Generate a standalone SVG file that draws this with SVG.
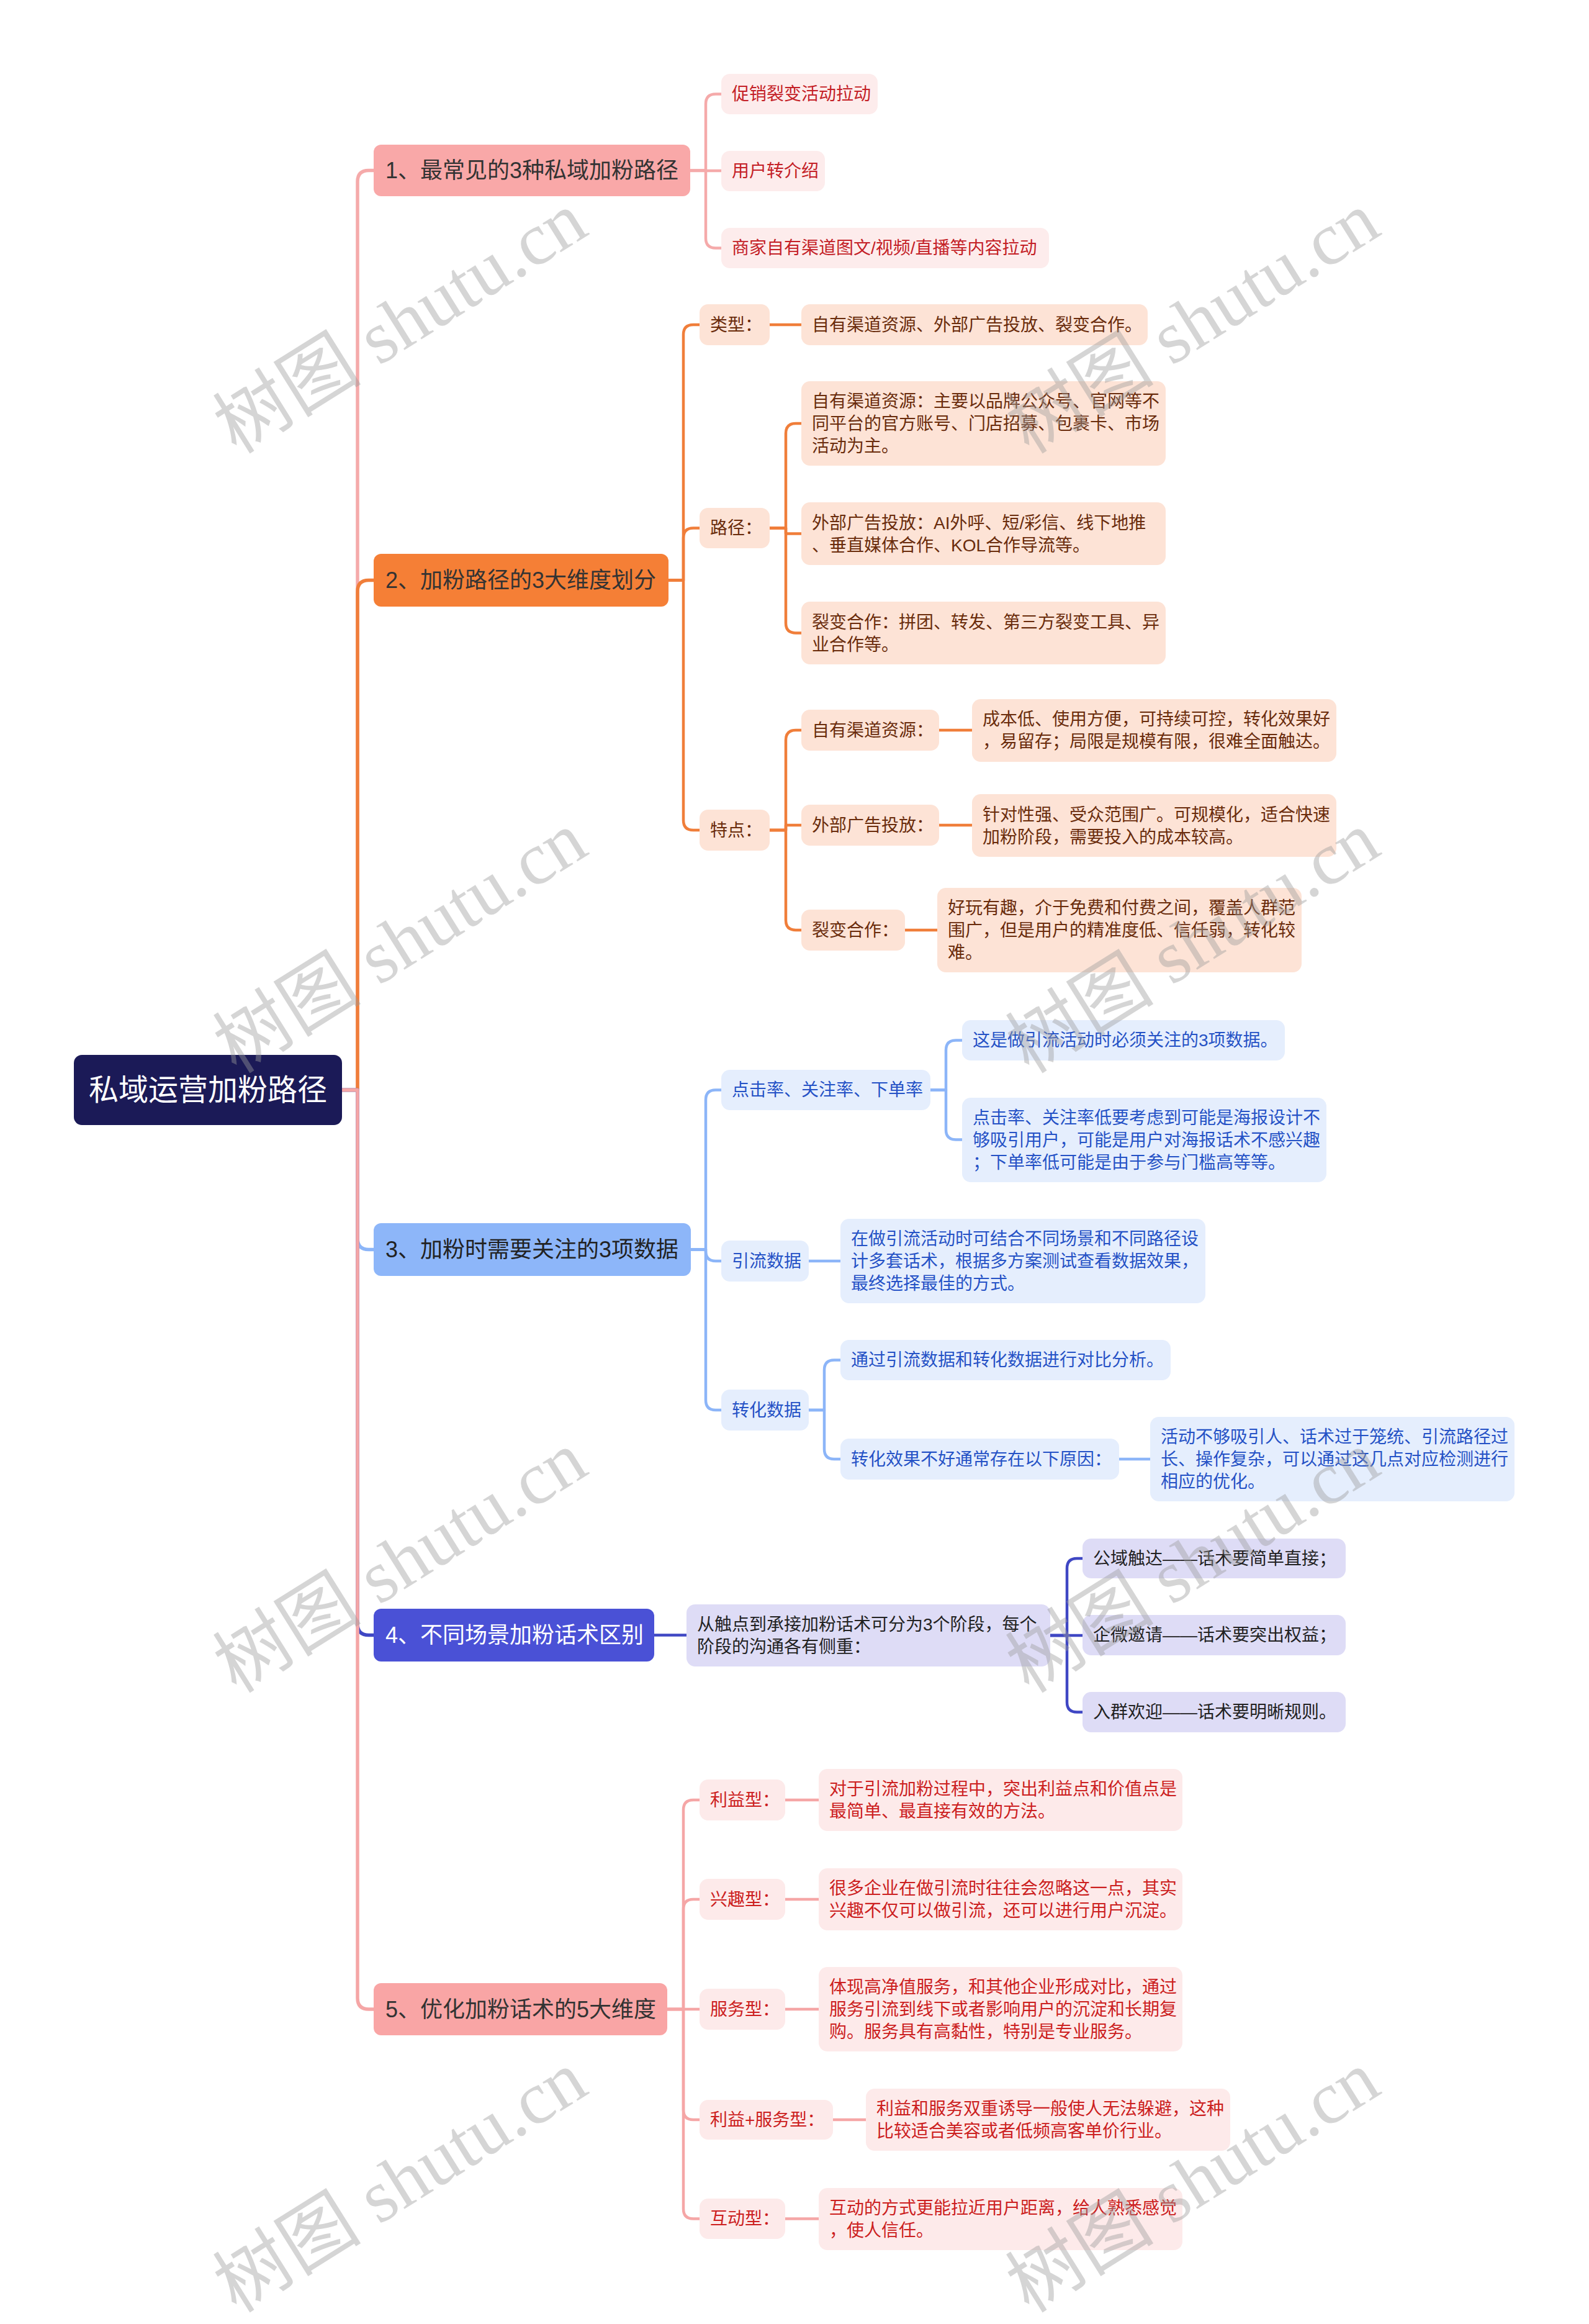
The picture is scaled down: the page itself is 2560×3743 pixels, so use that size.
<svg xmlns="http://www.w3.org/2000/svg" width="2560" height="3743" viewBox="0 0 2560 3743">
<style>
text { font-family: "Liberation Sans", "Noto Sans CJK SC", sans-serif; dominant-baseline: central; }
.root-t { font-size: 48px; fill: #ffffff; }
.l2 { font-size: 36px; }
.s { font-size: 28px; }
.c { fill: none; stroke-linecap: round; stroke-linejoin: round; }
.k1 { stroke: #f5aaaa; }
.k2 { stroke: #f07e3a; }
.k3 { stroke: #8cb5f8; }
.k4 { stroke: #3f47c4; }
.k5 { stroke: #f5a6a6; }
.w1 { stroke-width: 5.5; }
.w2 { stroke-width: 4.5; }
.b1 { fill: #fdecec; } .t1 { fill: #c42026; }
.b2 { fill: #fde3d6; } .t2 { fill: #6a2c0c; }
.b3 { fill: #e5eefd; } .t3 { fill: #2552c6; }
.b4 { fill: #dedcf6; } .t4 { fill: #222222; }
.b5 { fill: #fdeaea; } .t5 { fill: #cc2020; }
.wm { font-family: "Liberation Serif", "Noto Sans CJK SC", serif; font-size: 120px; fill: #9a9a9a; fill-opacity: 0.42; text-anchor: middle; }
</style>
<rect x="0" y="0" width="2560" height="3743" fill="#ffffff"/>

<g id="connectors">
  <path class="c k1 w1" d="M551,1755.5 H576 V292.5 Q576,274.5 594,274.5 H602"/>
  <path class="c k2 w1" d="M551,1755.5 H576 V952.5 Q576,934.5 594,934.5 H602"/>
  <path class="c k3 w1" d="M551,1755.5 H576 V1994.5 Q576,2012.5 594,2012.5 H602"/>
  <path class="c k4 w1" d="M551,1755.5 H576 V2615.5 Q576,2633.5 594,2633.5 H602"/>
  <path class="c k5 w1" d="M551,1755.5 H576 V3218 Q576,3236 594,3236 H602"/>

  <path class="c k1 w2" d="M1112,274.5 H1137 V167.5 Q1137,151.5 1153,151.5 H1162"/>
  <path class="c k1 w2" d="M1112,275 H1162"/>
  <path class="c k1 w2" d="M1112,274.5 H1137 V383.5 Q1137,399.5 1153,399.5 H1162"/>

  <path class="c k2 w2" d="M1077,934.5 H1101 V539 Q1101,523 1117,523 H1127"/>
  <path class="c k2 w2" d="M1077,934.5 H1101 V866.5 Q1101,850.5 1117,850.5 H1127"/>
  <path class="c k2 w2" d="M1077,934.5 H1101 V1321 Q1101,1337 1117,1337 H1127"/>
  <path class="c k2 w2" d="M1240,523 H1291"/>
  <path class="c k2 w2" d="M1240,850.5 H1266 V698 Q1266,682 1282,682 H1291"/>
  <path class="c k2 w2" d="M1240,850.5 H1266 V859.5 H1291"/>
  <path class="c k2 w2" d="M1240,850.5 H1266 V1003.5 Q1266,1019.5 1282,1019.5 H1291"/>
  <path class="c k2 w2" d="M1240,1337 H1266 V1192 Q1266,1176 1282,1176 H1291"/>
  <path class="c k2 w2" d="M1240,1337 H1266 V1329 H1291"/>
  <path class="c k2 w2" d="M1240,1337 H1266 V1482 Q1266,1498 1282,1498 H1291"/>
  <path class="c k2 w2" d="M1513,1176 H1566"/>
  <path class="c k2 w2" d="M1513,1329 H1566"/>
  <path class="c k2 w2" d="M1458,1498 H1510"/>

  <path class="c k3 w2" d="M1113,2012.5 H1137 V1771.5 Q1137,1755.5 1153,1755.5 H1162"/>
  <path class="c k3 w2" d="M1113,2012.5 H1137 V2015 Q1137,2031 1153,2031 H1162"/>
  <path class="c k3 w2" d="M1113,2012.5 H1137 V2255 Q1137,2271 1153,2271 H1162"/>
  <path class="c k3 w2" d="M1499,1755.5 H1524 V1691.5 Q1524,1675.5 1540,1675.5 H1550"/>
  <path class="c k3 w2" d="M1499,1755.5 H1524 V1819.5 Q1524,1835.5 1540,1835.5 H1550"/>
  <path class="c k3 w2" d="M1303,2031 H1354"/>
  <path class="c k3 w2" d="M1303,2271 H1328 V2206.5 Q1328,2190.5 1344,2190.5 H1354"/>
  <path class="c k3 w2" d="M1303,2271 H1328 V2334 Q1328,2350 1344,2350 H1354"/>
  <path class="c k3 w2" d="M1803,2350 H1853"/>

  <path class="c k4 w2" d="M1054,2633.5 H1106"/>
  <path class="c k4 w2" d="M1692,2634 H1719 V2526 Q1719,2510 1735,2510 H1744"/>
  <path class="c k4 w2" d="M1692,2634 H1744"/>
  <path class="c k4 w2" d="M1692,2634 H1719 V2741.5 Q1719,2757.5 1735,2757.5 H1744"/>

  <path class="c k5 w2" d="M1075,3236 H1101 V2915 Q1101,2899 1117,2899 H1127"/>
  <path class="c k5 w2" d="M1075,3236 H1101 V3075 Q1101,3059 1117,3059 H1127"/>
  <path class="c k5 w2" d="M1075,3236 H1127"/>
  <path class="c k5 w2" d="M1075,3236 H1101 V3398 Q1101,3414 1117,3414 H1127"/>
  <path class="c k5 w2" d="M1075,3236 H1101 V3557.5 Q1101,3573.5 1117,3573.5 H1127"/>
  <path class="c k5 w2" d="M1265,2899 H1319"/>
  <path class="c k5 w2" d="M1265,3059 H1319"/>
  <path class="c k5 w2" d="M1265,3236 H1319"/>
  <path class="c k5 w2" d="M1342,3414 H1395"/>
  <path class="c k5 w2" d="M1265,3573.5 H1319"/>
</g>

<g id="root">
  <rect x="119" y="1699" width="432" height="113" rx="13" fill="#1b1a57"/>
  <text class="root-t" x="335" y="1755.5" text-anchor="middle">私域运营加粉路径</text>
</g>

<g id="n1">
  <rect x="602" y="233" width="510" height="83" rx="12" fill="#f9a8a8"/>
  <text class="l2" x="621" y="274.5" fill="#333333">1、最常见的3种私域加粉路径</text>
</g>
<g id="n1-1"><rect x="1162" y="119" width="252" height="65" rx="14" class="b1"/><text class="s t1" x="1179" y="151.5">促销裂变活动拉动</text></g>
<g id="n1-2"><rect x="1162" y="243" width="167" height="65" rx="14" class="b1"/><text class="s t1" x="1179" y="275.5">用户转介绍</text></g>
<g id="n1-3"><rect x="1162" y="367" width="528" height="65" rx="14" class="b1"/><text class="s t1" x="1179" y="399.5">商家自有渠道图文/视频/直播等内容拉动</text></g>

<g id="n2">
  <rect x="602" y="892" width="475" height="85" rx="12" fill="#f57f36"/>
  <text class="l2" x="621" y="934.5" fill="#333333">2、加粉路径的3大维度划分</text>
</g>
<g id="n2-type"><rect x="1127" y="490" width="113" height="66" rx="14" class="b2"/><text class="s t2" x="1144" y="523">类型：</text></g>
<g id="n2-type-1"><rect x="1291" y="490" width="558" height="66" rx="14" class="b2"/><text class="s t2" x="1308" y="523">自有渠道资源、外部广告投放、裂变合作。</text></g>
<g id="n2-path"><rect x="1127" y="818" width="113" height="65" rx="14" class="b2"/><text class="s t2" x="1144" y="850.5">路径：</text></g>
<g id="n2-path-1"><rect x="1291" y="614" width="587" height="136" rx="14" class="b2"/><text class="s t2"><tspan x="1308" y="646">自有渠道资源：主要以品牌公众号、官网等不</tspan><tspan x="1308" y="682">同平台的官方账号、门店招募、包裹卡、市场</tspan><tspan x="1308" y="718">活动为主。</tspan></text></g>
<g id="n2-path-2"><rect x="1291" y="809" width="587" height="101" rx="14" class="b2"/><text class="s t2"><tspan x="1308" y="841.5">外部广告投放：AI外呼、短/彩信、线下地推</tspan><tspan x="1308" y="877.5">、垂直媒体合作、KOL合作导流等。</tspan></text></g>
<g id="n2-path-3"><rect x="1291" y="969" width="587" height="101" rx="14" class="b2"/><text class="s t2"><tspan x="1308" y="1001.5">裂变合作：拼团、转发、第三方裂变工具、异</tspan><tspan x="1308" y="1037.5">业合作等。</tspan></text></g>
<g id="n2-feat"><rect x="1127" y="1304" width="113" height="66" rx="14" class="b2"/><text class="s t2" x="1144" y="1337">特点：</text></g>
<g id="n2-feat-1"><rect x="1291" y="1143" width="222" height="66" rx="14" class="b2"/><text class="s t2" x="1308" y="1176">自有渠道资源：</text></g>
<g id="n2-feat-1a"><rect x="1566" y="1126" width="587" height="101" rx="14" class="b2"/><text class="s t2"><tspan x="1583" y="1158">成本低、使用方便，可持续可控，转化效果好</tspan><tspan x="1583" y="1194">，易留存；局限是规模有限，很难全面触达。</tspan></text></g>
<g id="n2-feat-2"><rect x="1291" y="1296" width="222" height="66" rx="14" class="b2"/><text class="s t2" x="1308" y="1329">外部广告投放：</text></g>
<g id="n2-feat-2a"><rect x="1566" y="1279" width="587" height="101" rx="14" class="b2"/><text class="s t2"><tspan x="1583" y="1311.5">针对性强、受众范围广。可规模化，适合快速</tspan><tspan x="1583" y="1347.5">加粉阶段，需要投入的成本较高。</tspan></text></g>
<g id="n2-feat-3"><rect x="1291" y="1465" width="167" height="66" rx="14" class="b2"/><text class="s t2" x="1308" y="1498">裂变合作：</text></g>
<g id="n2-feat-3a"><rect x="1510" y="1430" width="587" height="136" rx="14" class="b2"/><text class="s t2"><tspan x="1527" y="1462">好玩有趣，介于免费和付费之间，覆盖人群范</tspan><tspan x="1527" y="1498">围广，但是用户的精准度低、信任弱，转化较</tspan><tspan x="1527" y="1534">难。</tspan></text></g>

<g id="n3">
  <rect x="602" y="1970" width="511" height="85" rx="12" fill="#8db6f9"/>
  <text class="l2" x="621" y="2012.5" fill="#222222">3、加粉时需要关注的3项数据</text>
</g>
<g id="n3-1"><rect x="1162" y="1723" width="337" height="65" rx="14" class="b3"/><text class="s t3" x="1179" y="1755.5">点击率、关注率、下单率</text></g>
<g id="n3-1a"><rect x="1550" y="1643" width="520" height="65" rx="14" class="b3"/><text class="s t3" x="1567" y="1675.5">这是做引流活动时必须关注的3项数据。</text></g>
<g id="n3-1b"><rect x="1550" y="1768" width="587" height="136" rx="14" class="b3"/><text class="s t3"><tspan x="1567" y="1800">点击率、关注率低要考虑到可能是海报设计不</tspan><tspan x="1567" y="1836">够吸引用户，可能是用户对海报话术不感兴趣</tspan><tspan x="1567" y="1872">；下单率低可能是由于参与门槛高等等。</tspan></text></g>
<g id="n3-2"><rect x="1162" y="1998" width="141" height="66" rx="14" class="b3"/><text class="s t3" x="1179" y="2031">引流数据</text></g>
<g id="n3-2a"><rect x="1354" y="1963" width="588" height="136" rx="14" class="b3"/><text class="s t3"><tspan x="1371" y="1995">在做引流活动时可结合不同场景和不同路径设</tspan><tspan x="1371" y="2031">计多套话术，根据多方案测试查看数据效果，</tspan><tspan x="1371" y="2067">最终选择最佳的方式。</tspan></text></g>
<g id="n3-3"><rect x="1162" y="2238" width="141" height="66" rx="14" class="b3"/><text class="s t3" x="1179" y="2271">转化数据</text></g>
<g id="n3-3a"><rect x="1354" y="2158" width="532" height="65" rx="14" class="b3"/><text class="s t3" x="1371" y="2190.5">通过引流数据和转化数据进行对比分析。</text></g>
<g id="n3-3b"><rect x="1354" y="2317" width="449" height="66" rx="14" class="b3"/><text class="s t3" x="1371" y="2350">转化效果不好通常存在以下原因：</text></g>
<g id="n3-3c"><rect x="1853" y="2282" width="587" height="136" rx="14" class="b3"/><text class="s t3"><tspan x="1870" y="2314">活动不够吸引人、话术过于笼统、引流路径过</tspan><tspan x="1870" y="2350">长、操作复杂，可以通过这几点对应检测进行</tspan><tspan x="1870" y="2386">相应的优化。</tspan></text></g>

<g id="n4">
  <rect x="602" y="2591" width="452" height="85" rx="12" fill="#4a51d6"/>
  <text class="l2" x="621" y="2633.5" fill="#ffffff">4、不同场景加粉话术区别</text>
</g>
<g id="n4-1"><rect x="1106" y="2584" width="586" height="100" rx="14" class="b4"/><text class="s t4"><tspan x="1123" y="2616">从触点到承接加粉话术可分为3个阶段，每个</tspan><tspan x="1123" y="2652">阶段的沟通各有侧重：</tspan></text></g>
<g id="n4-1a"><rect x="1744" y="2478" width="424" height="64" rx="14" class="b4"/><text class="s t4" x="1761" y="2510">公域触达——话术要简单直接；</text></g>
<g id="n4-1b"><rect x="1744" y="2601" width="424" height="65" rx="14" class="b4"/><text class="s t4" x="1761" y="2633.5">企微邀请——话术要突出权益；</text></g>
<g id="n4-1c"><rect x="1744" y="2725" width="424" height="65" rx="14" class="b4"/><text class="s t4" x="1761" y="2757.5">入群欢迎——话术要明晰规则。</text></g>

<g id="n5">
  <rect x="602" y="3194" width="473" height="84" rx="12" fill="#f9a5a5"/>
  <text class="l2" x="621" y="3236" fill="#333333">5、优化加粉话术的5大维度</text>
</g>
<g id="n5-1"><rect x="1127" y="2866" width="138" height="66" rx="14" class="b5"/><text class="s t5" x="1144" y="2899">利益型：</text></g>
<g id="n5-1a"><rect x="1319" y="2849" width="586" height="100" rx="14" class="b5"/><text class="s t5"><tspan x="1336" y="2881">对于引流加粉过程中，突出利益点和价值点是</tspan><tspan x="1336" y="2917">最简单、最直接有效的方法。</tspan></text></g>
<g id="n5-2"><rect x="1127" y="3026" width="138" height="66" rx="14" class="b5"/><text class="s t5" x="1144" y="3059">兴趣型：</text></g>
<g id="n5-2a"><rect x="1319" y="3009" width="586" height="100" rx="14" class="b5"/><text class="s t5"><tspan x="1336" y="3041">很多企业在做引流时往往会忽略这一点，其实</tspan><tspan x="1336" y="3077">兴趣不仅可以做引流，还可以进行用户沉淀。</tspan></text></g>
<g id="n5-3"><rect x="1127" y="3203" width="138" height="66" rx="14" class="b5"/><text class="s t5" x="1144" y="3236">服务型：</text></g>
<g id="n5-3a"><rect x="1319" y="3168" width="586" height="136" rx="14" class="b5"/><text class="s t5"><tspan x="1336" y="3200">体现高净值服务，和其他企业形成对比，通过</tspan><tspan x="1336" y="3236">服务引流到线下或者影响用户的沉淀和长期复</tspan><tspan x="1336" y="3272">购。服务具有高黏性，特别是专业服务。</tspan></text></g>
<g id="n5-4"><rect x="1127" y="3382" width="215" height="64" rx="14" class="b5"/><text class="s t5" x="1144" y="3414">利益+服务型：</text></g>
<g id="n5-4a"><rect x="1395" y="3364" width="587" height="100" rx="14" class="b5"/><text class="s t5"><tspan x="1412" y="3396">利益和服务双重诱导一般使人无法躲避，这种</tspan><tspan x="1412" y="3432">比较适合美容或者低频高客单价行业。</tspan></text></g>
<g id="n5-5"><rect x="1127" y="3541" width="138" height="65" rx="14" class="b5"/><text class="s t5" x="1144" y="3573.5">互动型：</text></g>
<g id="n5-5a"><rect x="1319" y="3524" width="586" height="100" rx="14" class="b5"/><text class="s t5"><tspan x="1336" y="3556">互动的方式更能拉近用户距离，给人熟悉感觉</tspan><tspan x="1336" y="3592">，使人信任。</tspan></text></g>

<g id="watermarks">
  <text class="wm" x="645" y="520" transform="rotate(-32 645 520)">树图 shutu.cn</text>
  <text class="wm" x="1922" y="520" transform="rotate(-32 1922 520)">树图 shutu.cn</text>
  <text class="wm" x="645" y="1518" transform="rotate(-32 645 1518)">树图 shutu.cn</text>
  <text class="wm" x="1922" y="1518" transform="rotate(-32 1922 1518)">树图 shutu.cn</text>
  <text class="wm" x="645" y="2516" transform="rotate(-32 645 2516)">树图 shutu.cn</text>
  <text class="wm" x="1922" y="2516" transform="rotate(-32 1922 2516)">树图 shutu.cn</text>
  <text class="wm" x="645" y="3514" transform="rotate(-32 645 3514)">树图 shutu.cn</text>
  <text class="wm" x="1922" y="3514" transform="rotate(-32 1922 3514)">树图 shutu.cn</text>
</g>
</svg>
